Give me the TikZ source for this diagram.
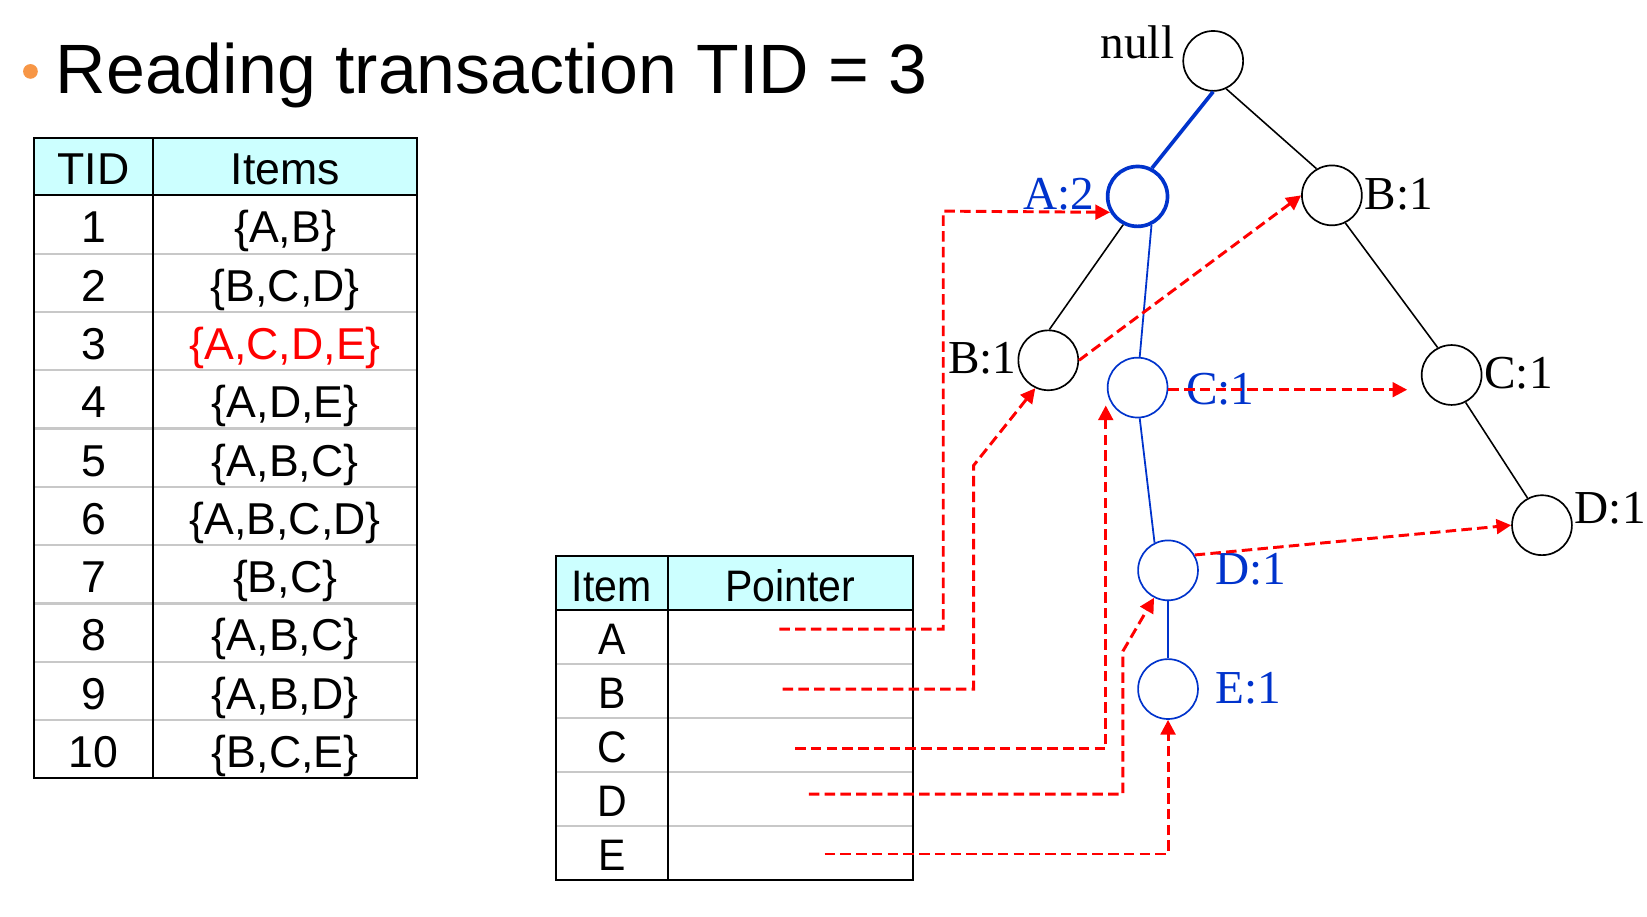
\documentclass[tikz,border=0pt]{standalone}
\usepackage{fontspec}
\setmainfont{Liberation Sans}
\newfontfamily\treefont{Liberation Serif}
\newfontfamily\narrowsans[FakeStretch=0.93]{Liberation Sans}
\usetikzlibrary{arrows.meta,calc}
\definecolor{hdrcyan}{RGB}{204,255,255}
\definecolor{treeblue}{RGB}{0,51,204}
\definecolor{bulletorange}{RGB}{247,150,70}
\definecolor{rowgray}{RGB}{200,200,200}
\tikzset{
  tcell/.style={font=\fontsize{42.5}{42.5}\selectfont, inner sep=0, anchor=base},
  icell/.style={font=\narrowsans\fontsize{42}{42}\selectfont, inner sep=0, anchor=base},
  frame/.style={line width=2pt, draw=black},
  sep/.style={line width=2.2pt, draw=rowgray},
  tnode/.style={circle, draw=black, line width=1.6pt, minimum size=57pt, inner sep=0},
  bnode/.style={tnode, draw=treeblue},
  anode/.style={tnode, draw=treeblue, line width=3.5pt},
  tedge/.style={draw=black, line width=1.5pt},
  bedge/.style={draw=treeblue, line width=1.7pt},
  aedge/.style={draw=treeblue, line width=3.5pt},
  lab/.style={font=\treefont\fontsize{45}{45}\selectfont, inner sep=0},
  blab/.style={lab, text=treeblue},
  ptr/.style={draw=red, line width=2.8pt, dash pattern=on 10pt off 5pt,
    -{Triangle[length=14pt,width=14pt]}},
}
\begin{document}
\begin{tikzpicture}[x=1pt,y=-1pt]
\useasboundingbox (0,0) rectangle (1568,873);
\fill[white] (0,0) rectangle (1568,873);

% title
\node[circle, fill=bulletorange, minimum size=14pt, inner sep=0] (bullet) at (29,68) {};
\node[anchor=base west, inner sep=0, font=\fontsize{66.5}{66.5}\selectfont] (title) at (53,89) {Reading transaction TID = 3};

% TID table
\fill[hdrcyan] (32,131) rectangle (397,186);
\foreach \k in {1,...,9} { \draw[sep] (32,{186+55.5*\k}) -- (397,{186+55.5*\k}); }
\draw[frame] (146,131) -- (146,741);
\draw[frame] (32,186) -- (397,186);
\draw[frame] (32,131) rectangle (397,741);
\node[tcell] (hTID) at (89,176) {TID};
\node[tcell] (hItems) at (271.5,176) {Items};
\node[tcell] (n1) at (89,{186+55.5*0.5+17.5}) {1};
\node[tcell] (n2) at (89,{186+55.5*1.5+17.5}) {2};
\node[tcell] (n3) at (89,{186+55.5*2.5+17.5}) {3};
\node[tcell] (n4) at (89,{186+55.5*3.5+17.5}) {4};
\node[tcell] (n5) at (89,{186+55.5*4.5+17.5}) {5};
\node[tcell] (n6) at (89,{186+55.5*5.5+17.5}) {6};
\node[tcell] (n7) at (89,{186+55.5*6.5+17.5}) {7};
\node[tcell] (n8) at (89,{186+55.5*7.5+17.5}) {8};
\node[tcell] (n9) at (89,{186+55.5*8.5+17.5}) {9};
\node[tcell] (n10) at (89,{186+55.5*9.5+17.5}) {10};
\node[tcell] (s1) at (271.5,{186+55.5*0.5+17.5}) {\{A,B\}};
\node[tcell] (s2) at (271.5,{186+55.5*1.5+17.5}) {\{B,C,D\}};
\node[tcell, text=red] (s3) at (271.5,{186+55.5*2.5+17.5}) {\{A,C,D,E\}};
\node[tcell] (s4) at (271.5,{186+55.5*3.5+17.5}) {\{A,D,E\}};
\node[tcell] (s5) at (271.5,{186+55.5*4.5+17.5}) {\{A,B,C\}};
\node[tcell] (s6) at (271.5,{186+55.5*5.5+17.5}) {\{A,B,C,D\}};
\node[tcell] (s7) at (271.5,{186+55.5*6.5+17.5}) {\{B,C\}};
\node[tcell] (s8) at (271.5,{186+55.5*7.5+17.5}) {\{A,B,C\}};
\node[tcell] (s9) at (271.5,{186+55.5*8.5+17.5}) {\{A,B,D\}};
\node[tcell] (s10) at (271.5,{186+55.5*9.5+17.5}) {\{B,C,E\}};

% Item table
\fill[hdrcyan] (529,529) rectangle (869,581);
\foreach \k in {1,...,4} { \draw[sep] (529,{581+51.4*\k}) -- (869,{581+51.4*\k}); }
\draw[frame] (636,529) -- (636,838);
\draw[frame] (529,581) -- (869,581);
\draw[frame] (529,529) rectangle (869,838);
\node[icell] (hItem) at (582.5,573) {Item};
\node[icell] (hPtr) at (752.5,573) {Pointer};
\node[icell] (rA) at (582.5,{581+51.4*0.5+16}) {A};
\node[icell] (rB) at (582.5,{581+51.4*1.5+16}) {B};
\node[icell] (rC) at (582.5,{581+51.4*2.5+16}) {C};
\node[icell] (rD) at (582.5,{581+51.4*3.5+16}) {D};
\node[icell] (rE) at (582.5,{581+51.4*4.5+16}) {E};

% tree nodes
\node[tnode] (null) at (1155,58) {};
\node[anode] (A) at (1083,187) {};
\node[tnode] (Br) at (1268,186) {};
\node[tnode] (Bl) at (998,343) {};
\node[bnode] (Cb) at (1083,369) {};
\node[tnode] (Cr) at (1382,357) {};
\node[tnode] (Dr) at (1468,500) {};
\node[bnode] (Db) at (1112,543) {};
\node[bnode] (E) at (1112,656) {};

% tree labels
\node[lab, anchor=base east] (lnull) at (1118,56) {null};
\node[blab, anchor=base east] (lA) at (1042,199) {A:2};
\node[lab, anchor=base west] (lBr) at (1299,199) {B:1};
\node[lab, anchor=base east] (lBl) at (968,356) {B:1};
\node[blab, anchor=base west] (lCb) at (1129,385) {C:1};
\node[lab, anchor=base west] (lCr) at (1413,370) {C:1};
\node[lab, anchor=base west] (lDr) at (1499,498) {D:1};
\node[blab, anchor=base west] (lDb) at (1157,556) {D:1};
\node[blab, anchor=base west] (lE) at (1157,670) {E:1};

% tree edges
\draw[aedge] (null.south) -- (A.63);
\draw[tedge] (null.-65) -- (Br.120);
\draw[tedge] (A.243) -- (Bl.88);
\draw[bedge] (A.-64) -- (Cb.86);
\draw[tedge] (Br.-64) -- (Cr.117);
\draw[tedge] (Cr.-63) -- (Dr.118);
\draw[bedge] (Cb.-86) -- (Db.116);
\draw[bedge] (Db.south) -- (E.north);

% pointer links
\coordinate (pA) at (742,599);
\coordinate (pB) at (745,656);
\coordinate (pC) at (757,713);
\coordinate (pD) at (770,756);
\coordinate (pE) at (785,813);
\coordinate (kA) at (898,201);
\coordinate (kB) at (927,443);
\coordinate (kD) at (1069,620);
\draw[ptr] (pA) -| (kA) -- (A.210);
\draw[ptr] (pB) -| (kB) -- (Bl.245);
\draw[ptr] (Bl.east) -- (Br.west);
\draw[ptr] (pC) -| ([xshift=-1pt,yshift=-17pt]Cb.west);
\draw[ptr] ([yshift=-2pt]Cb.east) -- ([xshift=-13pt,yshift=-2pt]Cb.east -| Cr.west);
\draw[ptr] (pD) -| (kD) -- (Db.243);
\draw[ptr] (Db.30) -- (Dr.west);
\draw[ptr] (pE) -| (E.south);
\end{tikzpicture}
\end{document}
